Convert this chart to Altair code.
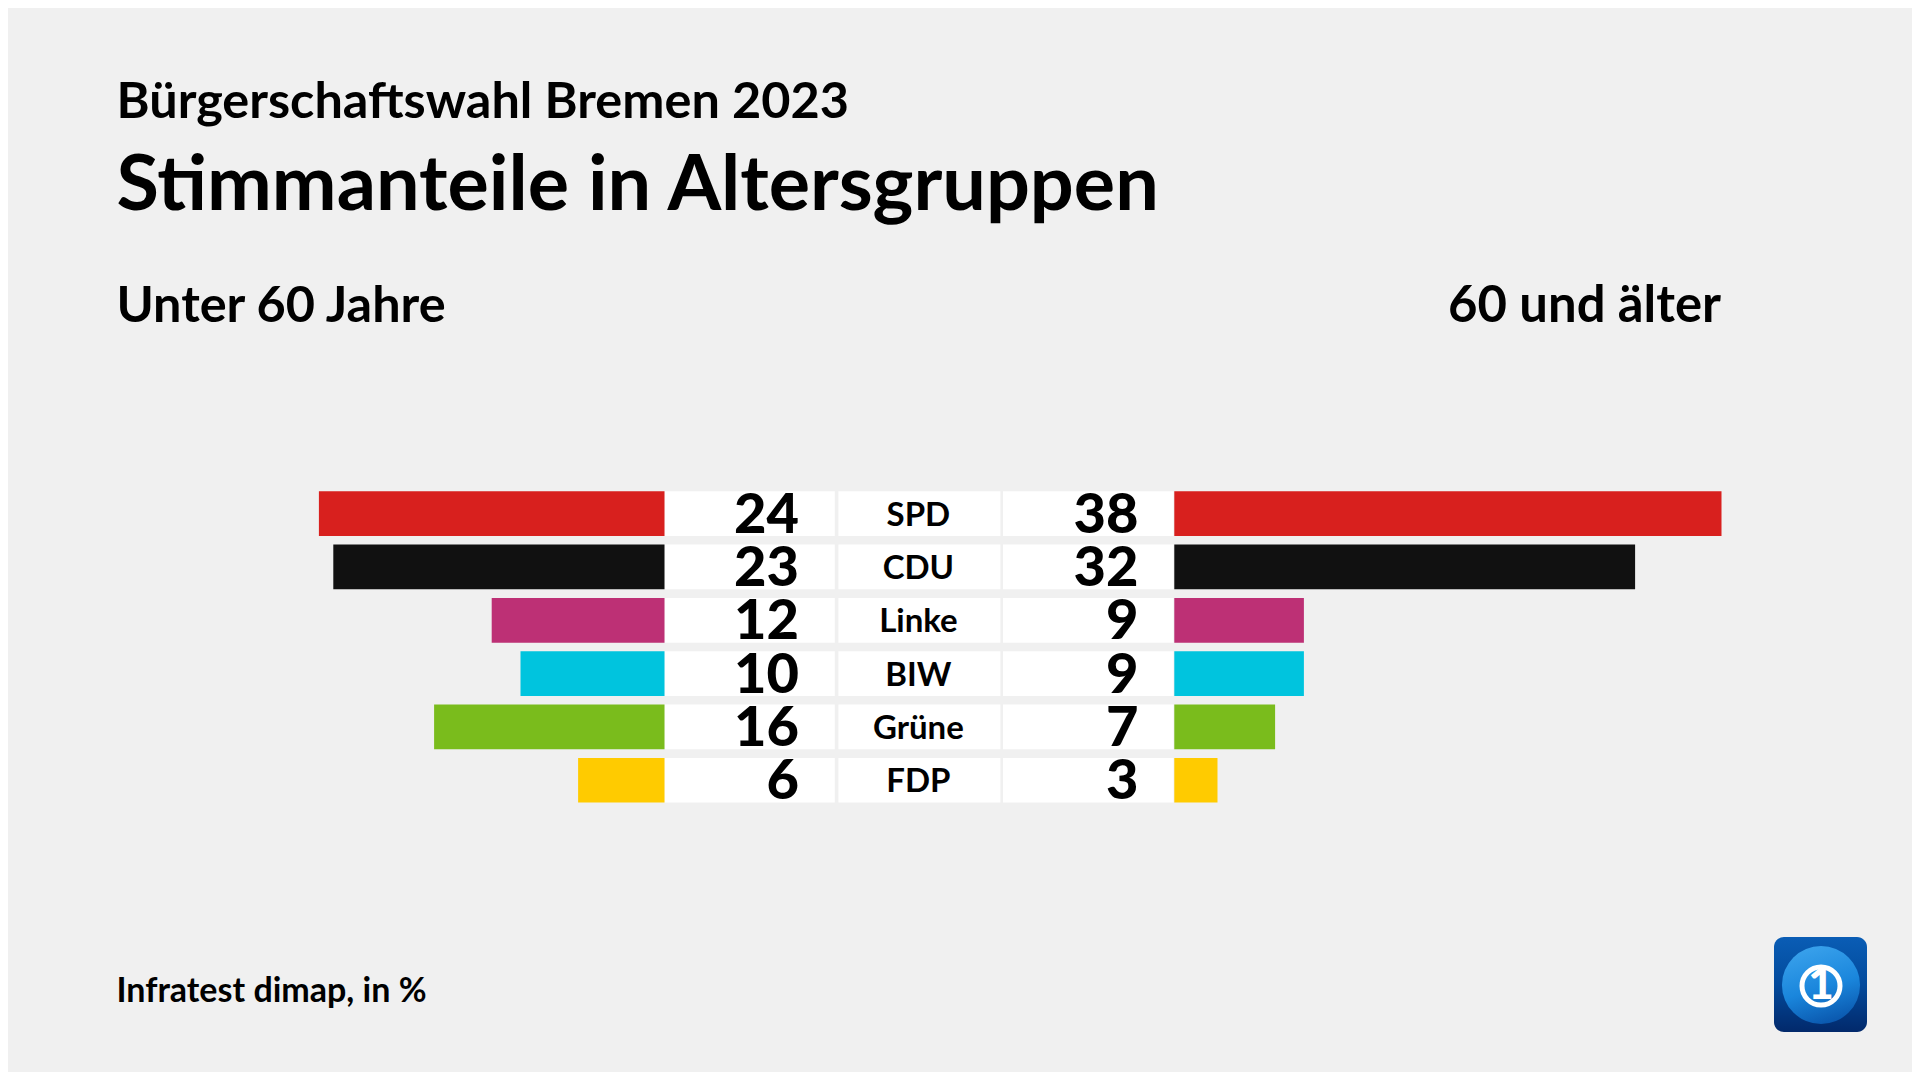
import altair as alt
import pandas as pd

parties = ["SPD", "CDU", "Linke", "BIW", "Grüne", "FDP"]
under60 = [24, 23, 12, 10, 16, 6]
over60 = [38, 32, 9, 9, 7, 3]
colors = ["#d8201e", "#111111", "#bd3075", "#00c4de", "#7abc1c", "#ffcb00"]

subtitle = "Bürgerschaftswahl Bremen 2023"
title = "Stimmanteile in Altersgruppen"
left_head = "Unter 60 Jahre"
right_head = "60 und älter"
source = "Infratest dimap, in %"
FONT = "Lato"

df = pd.DataFrame({"party": parties, "under60": under60, "over60": over60})
one = pd.DataFrame({"a": [1]})

y = alt.Y("party:N", sort=parties, axis=None,
          scale=alt.Scale(domain=parties, range=[483.3, 794.6], paddingInner=0.162, paddingOuter=0))
color = alt.Color("party:N", legend=None, scale=alt.Scale(domain=parties, range=colors))


def bars(field, rng):
    return alt.Chart(df).mark_bar().encode(
        x=alt.X(f"{field}:Q", axis=None, stack=None, scale=alt.Scale(domain=[0, 38], range=rng, nice=False)),
        y=y, color=color)


def box(x0, x1):
    return alt.Chart(df).mark_rect(color="white").encode(x=alt.value(x0), x2=alt.value(x1), y=y)


def numbers(field, xpos):
    return alt.Chart(df).mark_text(font=FONT, fontWeight=900, fontSize=56, align="right",
                                   baseline="middle", color="black", dy=2).encode(
        x=alt.value(xpos), y=y, text=f"{field}:Q")


def label(text, xpos, ypos, size, align="left", weight="bold"):
    return alt.Chart(one).mark_text(font=FONT, fontWeight=weight, fontSize=size, align=align,
                                    baseline="alphabetic", color="black", text=text).encode(
        x=alt.value(xpos), y=alt.value(ypos))


names = alt.Chart(df).mark_text(font=FONT, fontWeight="bold", fontSize=33, align="center",
                                baseline="middle", color="black", dy=2).encode(
    x=alt.value(910.4), y=y, text="party:N")

logo_bg = alt.Chart(one).mark_rect(
    cornerRadius=10,
    color=alt.Gradient(gradient="linear", x1=0, y1=0, x2=0, y2=1,
                       stops=[alt.GradientStop(color="#0a5db5", offset=0),
                              alt.GradientStop(color="#024a9c", offset=0.5),
                              alt.GradientStop(color="#02296b", offset=1)])
).encode(x=alt.value(1766), x2=alt.value(1859), y=alt.value(929), y2=alt.value(1024))
globe = alt.Chart(one).mark_point(
    shape="circle", size=6100, filled=True, opacity=1,
    color=alt.Gradient(gradient="linear", x1=0.3, y1=0, x2=0.6, y2=1,
                       stops=[alt.GradientStop(color="#3aa2ec", offset=0),
                              alt.GradientStop(color="#1a86dc", offset=0.55),
                              alt.GradientStop(color="#0a57ad", offset=1)])
).encode(x=alt.value(1813), y=alt.value(977))
ring = alt.Chart(one).mark_point(shape="circle", size=1444, filled=False, opacity=1,
                                 color="white", strokeWidth=5).encode(x=alt.value(1813), y=alt.value(978))
one_glyph = alt.Chart(one).mark_text(font=FONT, fontWeight=900, fontSize=44, align="center",
                                     baseline="middle", color="white", text="1").encode(
    x=alt.value(1813), y=alt.value(978))

chart = alt.layer(
    box(656.5, 826.8), box(830.4, 992.4), box(995, 1165.5),
    bars("under60", [656.5, 109.3]),
    bars("over60", [1166.3, 1713.5]),
    numbers("under60", 791), numbers("over60", 1130.5), names,
    label(subtitle, 108.5, 109.5, 50.4),
    label(title, 108.5, 202, 77.4),
    label(left_head, 108.5, 314, 50.4),
    label(right_head, 1713, 314, 50.8, "right"),
    label(source, 108.5, 993.6, 34),
    logo_bg, globe, ring, one_glyph,
).resolve_scale(x="independent").properties(
    width=1904, height=1064, background="#f0f0f0", padding=0,
    autosize=alt.AutoSizeParams(type="none"),
).configure_view(stroke=None)

chart.save("out.html", embed_options={"renderer": "svg", "actions": False})
